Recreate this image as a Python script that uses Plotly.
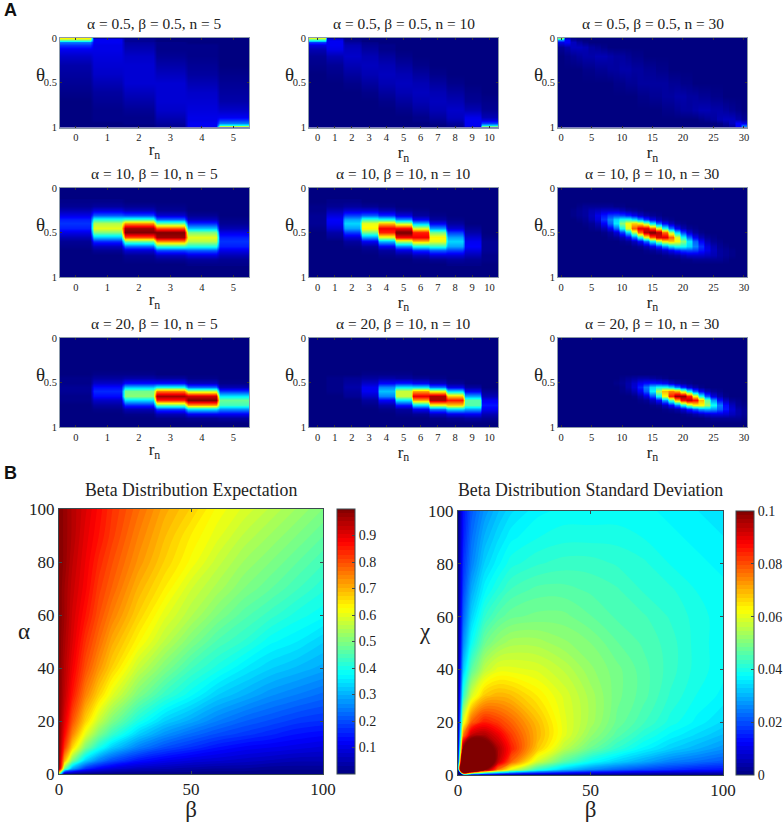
import numpy as np
import plotly.graph_objects as go

W, H = 784, 822

# panel A, values in percent of the panel peak, rows are theta and columns r_n
THETA_LOW_5 = [0, .015, .03, .05, .08, .12, .2, .3, .4, .5, .6, .7, .8, .88, .92, .95, .97, .985, 1]
A05_N5 = [
    [62, 5, 1, 0, 0, 0], [55, 11, 2, 0, 0, 0], [38, 11, 2, 0, 0, 0], [24, 11, 3, 1, 0, 0],
    [17, 10, 4, 1, 1, 0], [11, 10, 5, 1, 1, 0], [7, 9, 7, 2, 1, 0], [4, 8, 8, 4, 2, 0],
    [3, 7, 8, 6, 3, 1], [2, 5, 8, 8, 5, 2], [1, 3, 6, 8, 7, 3], [0, 2, 4, 8, 8, 4],
    [0, 1, 2, 7, 9, 7], [0, 1, 1, 5, 10, 11], [0, 1, 1, 4, 10, 17], [0, 0, 1, 3, 11, 24],
    [0, 0, 0, 2, 11, 38], [0, 0, 0, 2, 11, 55], [0, 0, 0, 1, 5, 62],
]
A05_N10 = [
    [58, 4, 0, 0, 0, 0, 0, 0, 0, 0, 0], [48, 9, 1, 0, 0, 0, 0, 0, 0, 0, 0],
    [32, 11, 2, 0, 0, 0, 0, 0, 0, 0, 0], [18, 11, 3, 1, 0, 0, 0, 0, 0, 0, 0],
    [9, 11, 5, 2, 1, 0, 0, 0, 0, 0, 0], [5, 10, 6, 3, 1, 0, 0, 0, 0, 0, 0],
    [2, 5, 7, 5, 3, 1, 0, 0, 0, 0, 0], [1, 2, 5, 6, 5, 3, 1, 0, 0, 0, 0],
    [0, 1, 3, 5, 6, 5, 3, 1, 0, 0, 0], [0, 0, 1, 3, 5, 6, 5, 3, 1, 0, 0],
    [0, 0, 0, 1, 3, 5, 6, 5, 3, 1, 0], [0, 0, 0, 0, 1, 3, 5, 6, 5, 2, 1],
    [0, 0, 0, 0, 0, 1, 3, 5, 7, 5, 2], [0, 0, 0, 0, 0, 0, 1, 3, 6, 10, 5],
    [0, 0, 0, 0, 0, 0, 1, 2, 5, 11, 9], [0, 0, 0, 0, 0, 0, 0, 1, 3, 11, 18],
    [0, 0, 0, 0, 0, 0, 0, 0, 2, 11, 32], [0, 0, 0, 0, 0, 0, 0, 0, 1, 9, 48],
    [0, 0, 0, 0, 0, 0, 0, 0, 0, 4, 58],
]
THETA_LOW_30 = [0, .02, .05, .1, .2, .35, .5, .65, .8, .9, .95, .98, 1]
# n = 30 rows are (first non zero r_n, values from there on)
A05_N30 = [
    (0, [50, 6, 1]), (0, [25, 12, 3, 1]), (0, [10, 12, 6, 3, 1]), (0, [2, 4, 6, 6, 5, 3, 2, 1]),
    (1, [1, 2, 3, 4, 4, 5, 5, 4, 3, 3, 2, 1, 1]), (4, [1, 1, 2, 2, 3, 3, 4, 4, 3, 3, 2, 2, 1, 1]),
    (9, [1, 1, 2, 2, 3, 3, 3, 3, 3, 2, 2, 1, 1]), (13, [1, 1, 2, 2, 3, 3, 4, 4, 3, 3, 2, 2, 1, 1]),
    (17, [1, 1, 2, 3, 3, 4, 5, 5, 4, 4, 3, 2, 1]), (23, [1, 2, 3, 5, 6, 6, 4, 2]),
    (26, [1, 3, 6, 12, 10]), (27, [1, 3, 12, 25]), (28, [1, 6, 50]),
]

THETA_MID = [.15, .2, .25, .3, .35, .4, .45, .5, .55, .6, .65, .7, .75, .8, .85]
A10_N5 = [
    [1, 1, 0, 0, 0, 0], [2, 3, 2, 1, 0, 0], [5, 9, 6, 2, 0, 0], [10, 21, 19, 8, 2, 0],
    [15, 39, 42, 22, 6, 1], [17, 54, 72, 47, 16, 2], [15, 59, 95, 78, 31, 5], [10, 49, 98, 98, 49, 10],
    [5, 31, 78, 95, 59, 15], [2, 16, 47, 72, 54, 17], [1, 6, 22, 42, 39, 15], [0, 2, 8, 19, 21, 10],
    [0, 0, 2, 6, 9, 5], [0, 0, 1, 2, 3, 2], [0, 0, 0, 0, 1, 1],
]
A10_N10 = [
    [0, 1, 1, 0, 0, 0, 0, 0, 0, 0, 0], [1, 2, 3, 2, 1, 0, 0, 0, 0, 0, 0],
    [1, 5, 8, 8, 5, 2, 1, 0, 0, 0, 0], [2, 9, 18, 21, 16, 9, 3, 1, 0, 0, 0],
    [2, 12, 28, 41, 38, 25, 11, 3, 1, 0, 0], [2, 11, 33, 59, 67, 54, 30, 11, 3, 0, 0],
    [1, 8, 28, 62, 87, 86, 58, 27, 8, 2, 0], [0, 4, 18, 48, 83, 100, 83, 48, 18, 4, 0],
    [0, 2, 8, 27, 58, 86, 87, 62, 28, 8, 1], [0, 0, 3, 11, 30, 54, 67, 59, 33, 11, 2],
    [0, 0, 1, 3, 11, 25, 38, 41, 28, 12, 2], [0, 0, 0, 1, 3, 9, 16, 21, 18, 9, 2],
    [0, 0, 0, 0, 1, 2, 5, 8, 8, 5, 1], [0, 0, 0, 0, 0, 0, 1, 2, 3, 2, 1],
    [0, 0, 0, 0, 0, 0, 0, 0, 1, 1, 0],
]
A10_N30 = [
    (0, []), (3, [1, 2, 2, 2, 2, 2, 1, 1]), (2, [1, 2, 3, 5, 6, 7, 7, 7, 5, 3, 2, 1]),
    (2, [1, 2, 3, 6, 10, 14, 18, 19, 18, 15, 11, 7, 4, 2, 1]),
    (3, [1, 2, 5, 9, 17, 25, 33, 38, 39, 34, 26, 17, 10, 5, 2, 1]),
    (4, [1, 2, 5, 12, 22, 35, 50, 61, 66, 62, 51, 36, 22, 12, 6, 2, 1]),
    (5, [1, 2, 5, 11, 22, 38, 58, 77, 89, 89, 77, 59, 39, 23, 11, 5, 2, 1]),
    (7, [1, 3, 8, 18, 33, 54, 76, 93, 100, 93, 76, 54, 33, 18, 8, 3, 1]),
    (8, [1, 2, 5, 11, 23, 39, 59, 77, 89, 89, 77, 58, 38, 22, 11, 5, 2, 1]),
    (10, [1, 2, 6, 12, 22, 36, 51, 62, 66, 61, 50, 35, 22, 12, 5, 2, 1]),
    (12, [1, 2, 5, 10, 17, 26, 34, 39, 38, 33, 25, 17, 9, 5, 2, 1]),
    (14, [1, 2, 4, 7, 11, 15, 18, 19, 18, 14, 10, 6, 3, 2, 1]),
    (17, [1, 2, 3, 5, 7, 7, 7, 6, 5, 3, 2, 1]), (20, [1, 1, 2, 2, 2, 2, 2, 1]), (0, []),
]

THETA_HIGH = [.35, .4, .45, .5, .55, .6, .65, .7, .75, .8, .85, .9, .95]
A20_N5 = [
    [0, 0, 0, 0, 0, 0], [0, 1, 1, 0, 0, 0], [1, 3, 4, 3, 1, 0], [1, 7, 13, 13, 6, 1],
    [2, 13, 31, 38, 22, 5], [2, 16, 48, 74, 55, 17], [1, 13, 50, 95, 90, 35], [1, 7, 34, 83, 98, 47],
    [0, 3, 16, 47, 71, 43], [0, 1, 5, 18, 34, 26], [0, 0, 1, 5, 11, 11], [0, 0, 0, 1, 2, 3],
    [0, 0, 0, 0, 0, 0],
]
A20_N10 = [
    [0, 0, 0, 0, 0, 0, 0, 0, 0, 0, 0], [0, 0, 0, 1, 1, 1, 0, 0, 0, 0, 0],
    [0, 1, 2, 3, 4, 3, 2, 1, 0, 0, 0], [0, 1, 3, 7, 12, 14, 11, 6, 2, 0, 0],
    [0, 1, 4, 11, 25, 35, 34, 23, 10, 3, 0], [0, 1, 3, 11, 31, 56, 70, 59, 33, 11, 2],
    [0, 0, 2, 7, 25, 56, 88, 94, 66, 28, 5], [0, 0, 0, 3, 12, 35, 70, 94, 84, 45, 11],
    [0, 0, 0, 1, 4, 14, 34, 59, 66, 45, 14], [0, 0, 0, 0, 1, 3, 11, 23, 33, 28, 11],
    [0, 0, 0, 0, 0, 1, 2, 6, 10, 11, 5], [0, 0, 0, 0, 0, 0, 0, 1, 2, 3, 2],
    [0, 0, 0, 0, 0, 0, 0, 0, 0, 0, 0],
]
A20_N30 = [
    (0, []), (0, []), (10, [1, 2, 3, 4, 4, 3, 2, 1]), (9, [1, 2, 4, 7, 11, 13, 14, 13, 11, 7, 4, 2, 1]),
    (10, [1, 4, 8, 15, 24, 33, 38, 38, 33, 24, 15, 8, 4, 1]),
    (10, [1, 2, 5, 11, 21, 36, 54, 68, 73, 68, 54, 37, 21, 11, 5, 2, 1]),
    (12, [1, 4, 9, 20, 38, 61, 83, 96, 96, 83, 61, 38, 20, 9, 4, 1]),
    (13, [1, 2, 6, 13, 27, 46, 68, 86, 92, 86, 68, 46, 27, 13, 6, 2, 1]),
    (15, [1, 2, 6, 13, 24, 38, 52, 61, 61, 52, 38, 24, 13, 6, 2, 1]),
    (17, [1, 2, 4, 8, 15, 21, 27, 29, 27, 21, 14, 8, 4, 2]),
    (20, [1, 2, 4, 6, 8, 9, 9, 8, 6, 4, 2]), (24, [1, 2, 2, 2, 2, 2, 1]), (0, []),
]

PANEL_TITLES = [
    ["α = 0.5, β = 0.5, n = 5", "α = 0.5, β = 0.5, n = 10", "α = 0.5, β = 0.5, n = 30"],
    ["α = 10, β = 10, n = 5", "α = 10, β = 10, n = 10", "α = 10, β = 10, n = 30"],
    ["α = 20, β = 10, n = 5", "α = 20, β = 10, n = 10", "α = 20, β = 10, n = 30"],
]
PANEL_THETAS = [
    [THETA_LOW_5, THETA_LOW_5, THETA_LOW_30],
    [THETA_MID, THETA_MID, THETA_MID],
    [THETA_HIGH, THETA_HIGH, THETA_HIGH],
]
PANEL_Z = [
    [A05_N5, A05_N10, A05_N30],
    [A10_N5, A10_N10, A10_N30],
    [A20_N5, A20_N10, A20_N30],
]
N_VALUES = [5, 10, 30]
R_TICKS = [[0, 1, 2, 3, 4, 5], [0, 1, 2, 3, 4, 5, 6, 7, 8, 9, 10], [0, 5, 10, 15, 20, 25, 30]]

# panel B, read on a grid of beta (columns) and alpha (rows)
BETA_GRID = [0, 2, 5, 10, 15, 20, 30, 40, 50, 60, 70, 80, 90, 100]
ALPHA_GRID = [0, 2, 5, 10, 15, 20, 30, 40, 50, 60, 70, 80, 90, 100]
EXPECTATION = [
    [.5, 0, 0, 0, 0, 0, 0, 0, 0, 0, 0, 0, 0, 0],
    [1, .5, .29, .17, .12, .09, .06, .05, .04, .03, .03, .02, .02, .02],
    [1, .71, .5, .33, .25, .2, .14, .11, .09, .08, .07, .06, .05, .05],
    [1, .83, .67, .5, .4, .33, .25, .2, .17, .14, .12, .11, .1, .09],
    [1, .88, .75, .6, .5, .43, .33, .27, .23, .2, .18, .16, .14, .13],
    [1, .91, .8, .67, .57, .5, .4, .33, .29, .25, .22, .2, .18, .17],
    [1, .94, .86, .75, .67, .6, .5, .43, .38, .33, .3, .27, .25, .23],
    [1, .95, .89, .8, .73, .67, .57, .5, .44, .4, .36, .33, .31, .29],
    [1, .96, .91, .83, .77, .71, .63, .56, .5, .45, .42, .38, .36, .33],
    [1, .97, .92, .86, .8, .75, .67, .6, .55, .5, .46, .43, .4, .38],
    [1, .97, .93, .88, .82, .78, .7, .64, .58, .54, .5, .47, .44, .41],
    [1, .98, .94, .89, .84, .8, .73, .67, .62, .57, .53, .5, .47, .44],
    [1, .98, .95, .9, .86, .82, .75, .69, .64, .6, .56, .53, .5, .47],
    [1, .98, .95, .91, .87, .83, .77, .71, .67, .62, .59, .56, .53, .5],
]
STD_DEV = [
    [0, 0, 0, 0, 0, 0, 0, 0, 0, 0, 0, 0, 0, 0],
    [0, .224, .16, .103, .076, .06, .042, .032, .026, .022, .019, .017, .015, .014],
    [0, .16, .151, .118, .094, .078, .058, .046, .038, .033, .029, .025, .023, .021],
    [0, .103, .118, .109, .096, .085, .068, .056, .048, .042, .037, .033, .03, .027],
    [0, .076, .094, .096, .09, .082, .07, .06, .052, .046, .041, .037, .034, .031],
    [0, .06, .078, .085, .082, .078, .069, .06, .054, .048, .044, .04, .037, .034],
    [0, .042, .058, .068, .07, .069, .064, .059, .054, .049, .046, .042, .039, .037],
    [0, .032, .046, .056, .06, .06, .059, .056, .052, .049, .046, .043, .04, .038],
    [0, .026, .038, .048, .052, .054, .054, .052, .05, .047, .045, .043, .04, .038],
    [0, .022, .033, .042, .046, .048, .049, .049, .047, .045, .044, .042, .04, .038],
    [0, .019, .029, .037, .041, .044, .046, .046, .045, .044, .042, .041, .039, .038],
    [0, .017, .025, .033, .037, .04, .042, .043, .043, .042, .041, .039, .038, .037],
    [0, .015, .023, .03, .034, .037, .039, .04, .04, .04, .039, .038, .037, .036],
    [0, .014, .021, .027, .031, .034, .037, .038, .038, .038, .038, .037, .036, .035],
]
EXP_TICKS = [.1, .2, .3, .4, .5, .6, .7, .8, .9]
STD_TICKS = [0, .02, .04, .06, .08, .1]
STD_TICK_TEXT = ["0", "0.02", "0.04", "0.06", "0.08", "0.1"]

JET = [[0, "#000080"], [.125, "#0000ff"], [.375, "#00ffff"], [.625, "#ffff00"], [.875, "#ff0000"], [1, "#800000"]]
SERIF = "Liberation Serif"
TEXT = "#222222"
FRAME_A = "#8b99a8"
FRAME_B = "#3a4a50"

# pixel boxes of the panels
PANEL_X = [(60, 249), (309, 498), (558, 747)]
PANEL_Y = [(38, 127.5), (188, 277), (338, 427)]


def fx(px):
    return px / W


def fy(py):
    return 1 - py / H


def full_rows(rows, n):
    if isinstance(rows[0], tuple):
        return [[0] * s + v + [0] * (n + 1 - s - len(v)) for s, v in rows]
    return rows


fig = go.Figure()
annotations = []
layout_axes = {}
idx = 0

for i in range(3):
    for j in range(3):
        idx += 1
        n = N_VALUES[j]
        z = np.repeat(np.array(full_rows(PANEL_Z[i][j], n)), 8, axis=1)
        fig.add_trace(go.Heatmap(
            x0=-0.5 + 1 / 16, dx=1 / 8,
            y=PANEL_THETAS[i][j], z=z,
            zmin=0, zmax=98,
            colorscale=JET, zsmooth="best", showscale=False,
            xaxis=f"x{idx}", yaxis=f"y{idx}",
        ))
        layout_axes[f"xaxis{idx}"] = dict(
            domain=[fx(PANEL_X[j][0]), fx(PANEL_X[j][1])],
            anchor=f"y{idx}", range=[-0.5, n + 0.5],
            tickvals=R_TICKS[j], ticks="inside", ticklen=2, tickcolor="#333333",
            showgrid=False, zeroline=False, showline=True, linecolor=FRAME_A, linewidth=1, mirror="ticks",
            tickfont=dict(family=SERIF, size=10.5, color=TEXT),
            title=dict(text="r<sub>n</sub>", font=dict(family=SERIF, size=17, color=TEXT), standoff=1),
        )
        layout_axes[f"yaxis{idx}"] = dict(
            domain=[fy(PANEL_Y[i][1]), fy(PANEL_Y[i][0])],
            anchor=f"x{idx}", range=[1, 0],
            tickvals=[0, .5, 1], ticktext=["0", "0.5", "1"], ticks="inside", ticklen=2, tickcolor="#333333",
            showgrid=False, zeroline=False, showline=True, linecolor=FRAME_A, linewidth=1, mirror="ticks",
            tickfont=dict(family=SERIF, size=10.5, color=TEXT),
        )
        annotations.append(dict(
            text=PANEL_TITLES[i][j], xref="paper", yref="paper", showarrow=False,
            x=fx(sum(PANEL_X[j]) / 2), y=fy(PANEL_Y[i][0] - 14), xanchor="center", yanchor="middle",
            font=dict(family=SERIF, size=15.4, color=TEXT),
        ))
        annotations.append(dict(
            text="θ", xref="paper", yref="paper", showarrow=False,
            x=fx(PANEL_X[j][0] - 20), y=fy(PANEL_Y[i][0] + 36), xanchor="center", yanchor="middle",
            font=dict(family=SERIF, size=19, color=TEXT),
        ))

B_PANELS = [
    dict(z=EXPECTATION, zmax=1, x=(59, 323), y=(509, 774), cb=337, title="Beta Distribution Expectation",
         ticks=EXP_TICKS, text=[f"{t:.1f}" for t in EXP_TICKS], ylabel="α", ylabel_x=24),
    dict(z=STD_DEV, zmax=.1, x=(458, 723), y=(511, 775), cb=736, title="Beta Distribution Standard Deviation",
         ticks=STD_TICKS, text=STD_TICK_TEXT, ylabel="χ", ylabel_x=425),
]

for p in B_PANELS:
    idx += 1
    step = p["zmax"] / 64
    fig.add_trace(go.Contour(
        x=BETA_GRID, y=ALPHA_GRID, z=p["z"],
        zmin=0, zmax=p["zmax"],
        colorscale=JET,
        contours=dict(start=-step, end=p["zmax"], size=step, coloring="fill", showlines=False),
        line=dict(width=0),
        colorbar=dict(
            x=fx(p["cb"]), xanchor="left", thickness=18, thicknessmode="pixels",
            y=fy(p["y"][0]), yanchor="top", len=(p["y"][1] - p["y"][0]) / H, lenmode="fraction",
            xpad=0, ypad=0, outlinewidth=1, outlinecolor=FRAME_B,
            tickvals=p["ticks"], ticktext=p["text"], ticks="inside", ticklen=3, tickcolor=FRAME_B,
            tickfont=dict(family=SERIF, size=14, color=TEXT),
        ),
        xaxis=f"x{idx}", yaxis=f"y{idx}",
    ))
    layout_axes[f"xaxis{idx}"] = dict(
        domain=[fx(p["x"][0]), fx(p["x"][1])], anchor=f"y{idx}", range=[0, 100],
        tickvals=[0, 50, 100], ticks="inside", ticklen=3, tickcolor=FRAME_B,
        showgrid=False, zeroline=False, showline=True, linecolor=FRAME_B, linewidth=1, mirror="ticks",
        tickfont=dict(family=SERIF, size=17, color=TEXT),
        title=dict(text="β", font=dict(family=SERIF, size=23, color=TEXT), standoff=2),
    )
    layout_axes[f"yaxis{idx}"] = dict(
        domain=[fy(p["y"][1]), fy(p["y"][0])], anchor=f"x{idx}", range=[0, 100],
        tickvals=[0, 20, 40, 60, 80, 100], ticks="inside", ticklen=3, tickcolor=FRAME_B,
        showgrid=False, zeroline=False, showline=True, linecolor=FRAME_B, linewidth=1, mirror="ticks",
        tickfont=dict(family=SERIF, size=17, color=TEXT),
    )
    annotations.append(dict(
        text=p["title"], xref="paper", yref="paper", showarrow=False,
        x=fx(sum(p["x"]) / 2), y=fy(490), xanchor="center", yanchor="middle",
        font=dict(family=SERIF, size=17.8, color=TEXT),
    ))
    annotations.append(dict(
        text=p["ylabel"], xref="paper", yref="paper", showarrow=False,
        x=fx(p["ylabel_x"]), y=fy(631), xanchor="center", yanchor="middle",
        font=dict(family=SERIF, size=23, color=TEXT),
    ))

annotations.append(dict(text="<b>A</b>", xref="paper", yref="paper", showarrow=False, x=fx(2), y=fy(10),
                        xanchor="left", yanchor="middle", font=dict(family="Liberation Sans", size=18, color="#111111")))
annotations.append(dict(text="<b>B</b>", xref="paper", yref="paper", showarrow=False, x=fx(2), y=fy(473),
                        xanchor="left", yanchor="middle", font=dict(family="Liberation Sans", size=18, color="#111111")))

fig.update_layout(
    width=W, height=H,
    margin=dict(l=0, r=0, t=0, b=0, autoexpand=False),
    paper_bgcolor="white",
    plot_bgcolor="#000080",
    showlegend=False,
    annotations=annotations,
    **layout_axes,
)

fig.write_html("out.html", config={"displayModeBar": False}, post_script="document.body.style.margin='0';")
